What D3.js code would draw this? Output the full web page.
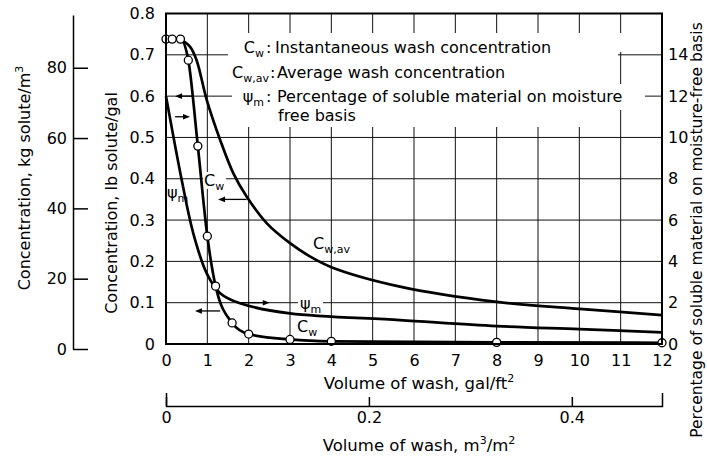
<!DOCTYPE html>
<html><head><meta charset="utf-8">
<script src="https://cdn.jsdelivr.net/npm/d3@7"></script>
<style>
body{margin:0;background:#fff}
svg{display:block;font-family:"DejaVu Sans",sans-serif;font-size:16px;fill:#000}
</style>
</head><body><svg id="c" width="707" height="459"></svg>
<script>
// ---- data ----
const xTicks = [0,1,2,3,4,5,6,7,8,9,10,11,12];
const yTicks = [0,0.1,0.2,0.3,0.4,0.5,0.6,0.7,0.8];
const pctTicks = [0,2,4,6,8,10,12,14];
const kgTicks = [0,20,40,60,80];
const m3Ticks = [0,0.2,0.4];
const galToM3 = 0.04074;

// instantaneous wash concentration (lb/gal) with measured points
const cwVol  = [0,0.15,0.35,0.54,0.77,1.0,1.2,1.6,2,3,4,8,12];
const cwConc = [0.738,0.738,0.738,0.687,0.479,0.261,0.140,0.051,0.024,0.011,0.0065,0.004,0.003];
// average wash concentration (lb/gal)
const cwavVol  = [0.34,0.58,0.74,0.985,1.31,1.63,1.95,2.44,3,3.48,4,5.66,8,10,12];
const cwavConc = [0.738,0.72,0.687,0.591,0.494,0.413,0.357,0.292,0.244,0.212,0.186,0.139,0.102,0.085,0.070];
// percentage soluble on moisture-free basis (%)
const psiVol = [0,0.38,0.66,0.985,1.31,1.79,3,5.66,8,10,12];
const psiPct = [12,7.94,5.36,3.42,2.46,1.97,1.48,1.16,0.87,0.72,0.56];

// direction arrows (volume from, volume to, level lb/gal)
const arrowFrom  = [0.66,0.22,1.95,1.79,1.31];
const arrowTo    = [0.22,0.58,1.26,2.51,0.70];
const arrowLevel = [0.6,0.55,0.35,0.1,0.08];

// ---- scales ----
const svg = d3.select("#c");
const x = d3.scaleLinear().domain([0,12]).range([166,662]);
const y = d3.scaleLinear().domain([0,0.8]).range([344,13.5]);
const yPct = d3.scaleLinear().domain([0,16]).range([344,13.5]);
const yKg = d3.scaleLinear().domain([0,95]).range([349,15]);
const xM3 = d3.scaleLinear().domain([0,12*galToM3]).range([166,662]);

// ---- grid ----
const grid = svg.append("g").attr("stroke","#111").attr("stroke-width",1);
grid.selectAll("line.v").data(xTicks.slice(1,-1)).join("line")
  .attr("x1",d=>x(d)).attr("x2",d=>x(d)).attr("y1",y(0.8)).attr("y2",y(0));
grid.selectAll("line.h").data(yTicks.slice(1,-1)).join("line")
  .attr("x1",x(0)).attr("x2",x(12)).attr("y1",d=>y(d)).attr("y2",d=>y(d));

// ---- legend masks + text ----
const masks = [[230,33,623,52],[228,52,618,58],[222,58,600,84],[232,84,645,110],[232,110,600,127]];
svg.append("g").selectAll("rect").data(masks).join("rect")
  .attr("x",d=>d[0]).attr("y",d=>d[1]).attr("width",d=>d[2]-d[0]).attr("height",d=>d[3]-d[1]).attr("fill","#fff");

function sym(g, xp, yp, main, sub, anchor){
  const t = g.append("text").attr("x",xp).attr("y",yp).attr("text-anchor",anchor||"start");
  t.append("tspan").text(main);
  t.append("tspan").attr("font-size","11px").attr("dy",4).text(sub);
  return t;
}
const lg = svg.append("g");
sym(lg,264,52.5,"C","w","end");
lg.append("text").attr("x",266).attr("y",52.5).text(":");
lg.append("text").attr("x",275).attr("y",52.5).text("Instantaneous wash concentration");
sym(lg,269,77.5,"C","w,av","end");
lg.append("text").attr("x",270).attr("y",77.5).text(":");
lg.append("text").attr("x",277).attr("y",77.5).text("Average wash concentration");
sym(lg,264,101.8,"\u03C8","m","end");
lg.append("text").attr("x",266).attr("y",101.8).text(":");
lg.append("text").attr("x",277).attr("y",101.8).text("Percentage of soluble material on moisture");
lg.append("text").attr("x",278).attr("y",121).text("free basis");

// ---- curve label masks ----
const labMasks = [[203,172,226,189],[298,295,323,311],[296,319,318,336]];
svg.append("g").selectAll("rect").data(labMasks).join("rect")
  .attr("x",d=>d[0]).attr("y",d=>d[1]).attr("width",d=>d[2]-d[0]).attr("height",d=>d[3]-d[1]).attr("fill","#fff");

// ---- curves ----
const lineM = d3.line().curve(d3.curveMonotoneX);
const lineC = d3.line().curve(d3.curveCatmullRom.alpha(0.5));
const cg = svg.append("g").attr("fill","none").attr("stroke","#000").attr("stroke-width",2.7).attr("stroke-linejoin","round");
cg.append("path").attr("d", lineM(cwVol.map((v,i)=>[x(v),y(cwConc[i])])));
cg.append("path").attr("d", lineC(cwavVol.map((v,i)=>[x(v),y(cwavConc[i])])));
cg.append("path").attr("d", lineC(psiVol.map((v,i)=>[x(v),yPct(psiPct[i])])));

// ---- arrows ----
const ag = svg.append("g");
arrowFrom.forEach((f,i)=>{
  const x1=x(f), x2=x(arrowTo[i]), yy=y(arrowLevel[i]);
  const dir = x2>x1?1:-1;
  ag.append("line").attr("x1",x1).attr("x2",x2-dir*5).attr("y1",yy).attr("y2",yy)
    .attr("stroke","#000").attr("stroke-width",1.3);
  ag.append("path").attr("d",`M${x2},${yy}L${x2-dir*7},${yy-2.8}L${x2-dir*7},${yy+2.8}Z`).attr("fill","#000");
});

// ---- circles ----
svg.append("g").selectAll("circle").data(cwVol).join("circle")
  .attr("cx",d=>x(d)).attr("cy",(d,i)=>y(cwConc[i])).attr("r",4)
  .attr("fill","#fff").attr("stroke","#000").attr("stroke-width",1.3);

// ---- curve labels ----
sym(svg,204,185.5,"C","w");
sym(svg,167,197.5,"\u03C8","m");
sym(svg,313,248.5,"C","w,av");
sym(svg,300,308.5,"\u03C8","m");
sym(svg,297,331.5,"C","w");

// ---- border ----
svg.append("rect").attr("x",x(0)).attr("y",y(0.8)).attr("width",x(12)-x(0)).attr("height",y(0)-y(0.8))
  .attr("fill","none").attr("stroke","#000").attr("stroke-width",2);

// ---- axes ----
function clean(g){ g.selectAll("text").attr("font-family","DejaVu Sans").attr("font-size","16px").attr("fill","#000"); g.select(".domain").remove(); return g;}
clean(svg.append("g").attr("transform",`translate(${x(0)},0)`)
  .call(d3.axisLeft(y).tickValues(yTicks).tickSize(0).tickPadding(11).tickFormat(d=>d===0?"0":d.toFixed(1))));
clean(svg.append("g").attr("transform",`translate(${x(12)},0)`)
  .call(d3.axisRight(yPct).tickValues(pctTicks).tickSize(0).tickPadding(6)));
clean(svg.append("g").attr("transform",`translate(0,${y(0)})`)
  .call(d3.axisBottom(x).tickValues(xTicks).tickSize(0).tickPadding(11)));

const kgAx = svg.append("g").attr("transform","translate(73,0)")
  .call(d3.axisLeft(yKg).tickValues(kgTicks).tickSizeInner(-15).tickSizeOuter(0).tickPadding(6));
kgAx.selectAll("text").attr("font-family","DejaVu Sans").attr("font-size","16px").attr("fill","#000");
kgAx.selectAll("line,path").attr("stroke","#000").attr("stroke-width",1.5);

const m3Ax = svg.append("g").attr("transform","translate(0,406)")
  .call(d3.axisBottom(xM3).tickValues(m3Ticks).tickSizeInner(-9).tickSizeOuter(-13).tickPadding(6).tickFormat(d=>d===0?"0":d.toFixed(1)));
m3Ax.selectAll("text").attr("font-family","DejaVu Sans").attr("font-size","16px").attr("fill","#000");
m3Ax.selectAll("line,path").attr("stroke","#000").attr("stroke-width",1.5);

// ---- titles ----
function sup(t, parts){
  parts.forEach(p=>{
    if(p[1]) t.append("tspan").attr("font-size","11px").attr("dy",-7).text(p[0]);
    else t.append("tspan").attr("dy",p[2]||0).text(p[0]);
  });
}
sup(svg.append("text").attr("x",419).attr("y",389).attr("text-anchor","middle").attr("font-size","16.5px"),[["Volume of wash, gal/ft"],["2",1]]);
sup(svg.append("text").attr("x",419).attr("y",451).attr("text-anchor","middle").attr("font-size","16.5px"),[["Volume of wash, m"],["3",1],["/m",0,7],["2",1]]);
sup(svg.append("text").attr("transform","translate(30,178) rotate(-90)").attr("text-anchor","middle"),[["Concentration, kg solute/m"],["3",1]]);
svg.append("text").attr("transform","translate(117,203) rotate(-90)").attr("text-anchor","middle").text("Concentration, lb solute/gal");
svg.append("text").attr("transform","translate(702,230) rotate(-90)").attr("text-anchor","middle").attr("font-size","15.5px")
  .text("Percentage of soluble material on moisture-free basis");
</script>
</body></html>
